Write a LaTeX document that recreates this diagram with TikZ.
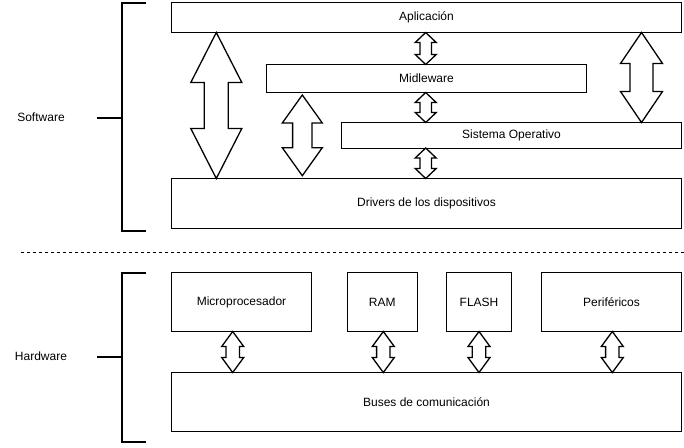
\documentclass[tikz,border=0pt]{standalone}
\usepackage{fontspec}
\setmainfont{Liberation Sans}
\usetikzlibrary{calc}
\tikzset{
  blk/.style={draw=black, line width=1pt, fill=white, inner sep=0pt, outer sep=0pt, anchor=north west, font=\fontsize{12pt}{14pt}\selectfont},
  barrow/.style={draw=black, line width=1.3pt, fill=white, line join=miter},
  brack/.style={draw=black, line width=2pt},
  lbl/.style={font=\fontsize{12pt}{14pt}\selectfont, inner sep=0pt},
  sep/.style={draw=black, line width=1pt, dash pattern=on 3pt off 3pt}
}
% #1 top, #2 bottom, #3 head half width, #4 shaft half width, #5 head length
\newcommand\blockarrow[5]{%
  \path[barrow] let \p1=#1, \p2=#2 in
    (\x1,\y1) -- (\x1+#3,\y1-#5) -- (\x1+#4,\y1-#5) -- (\x1+#4,\y2+#5) -- (\x1+#3,\y2+#5)
    -- (\x1,\y2) -- (\x1-#3,\y2+#5) -- (\x1-#4,\y2+#5) -- (\x1-#4,\y1-#5) -- (\x1-#3,\y1-#5) -- cycle;}
\begin{document}
\begin{tikzpicture}[x=1pt,y=-1pt]
\useasboundingbox (0,0) rectangle (684,447);
% Software boxes
\node[blk, minimum width=510pt, minimum height=30pt] (app) at (171.5,2.5) {Aplicación};
\node[blk, minimum width=320pt, minimum height=28pt] (mid) at (266.5,64.5) {Midleware};
\node[blk, minimum width=340pt, minimum height=25.5pt] (so) at (341.5,122.5) {Sistema Operativo};
\node[blk, minimum width=510pt, minimum height=50pt] (drv) at (171.5,178.5) {Drivers de los dispositivos};
% Hardware boxes
\node[blk, minimum width=140pt, minimum height=59pt] (mic) at (171.5,272.5) {Microprocesador};
\node[blk, minimum width=69.5pt, minimum height=59pt] (ram) at (347.5,272.5) {RAM};
\node[blk, minimum width=65pt, minimum height=59pt] (fla) at (446.5,272.5) {FLASH};
\node[blk, minimum width=140pt, minimum height=59pt] (per) at (541.5,272.5) {Periféricos};
\node[blk, minimum width=510pt, minimum height=59pt] (bus) at (171.5,372.5) {Buses de comunicación};
% block arrows (software)
\blockarrow{(216.3,0 |- app.south)}{(216.3,0 |- drv.north)}{25.5}{12}{50}
\coordinate (m2t) at (302.3,95);
\coordinate (m2b) at (302.3,175.7);
\blockarrow{(m2t)}{(m2b)}{20}{9.7}{28}
\blockarrow{(641.5,0 |- app.south)}{(641.5,0 |- so.north)}{21}{11.5}{31}
\blockarrow{(425.7,0 |- app.south)}{(425.7,0 |- mid.north)}{10.5}{5.7}{10}
\blockarrow{(425.7,0 |- mid.south)}{(425.7,0 |- so.north)}{10.5}{5.7}{10}
\blockarrow{(425.7,0 |- so.south)}{(425.7,0 |- drv.north)}{10.5}{5.7}{10}
% block arrows (hardware)
\blockarrow{(232.7,0 |- mic.south)}{(232.7,0 |- bus.north)}{11}{6.7}{15}
\blockarrow{(383.3,0 |- ram.south)}{(383.3,0 |- bus.north)}{11}{6.7}{15}
\blockarrow{(479,0 |- fla.south)}{(479,0 |- bus.north)}{11}{6.7}{15}
\blockarrow{(612.3,0 |- per.south)}{(612.3,0 |- bus.north)}{11}{6.7}{15}
% brackets and labels
\node[lbl] (sw) at (41,117.7) {Software};
\node[lbl] (hw) at (41,356.7) {Hardware};
\draw[brack] (146,2.5) -- (122,2.5) -- (122,231) -- (146,231);
\draw[brack] (97,117.5) -- (122,117.5);
\draw[brack] (146,272.5) -- (122,272.5) -- (122,442) -- (146,442);
\draw[brack] (97,357) -- (122,357);
% separator
\draw[sep] (20.7,252.5) -- (684,252.5);
\end{tikzpicture}
\end{document}
